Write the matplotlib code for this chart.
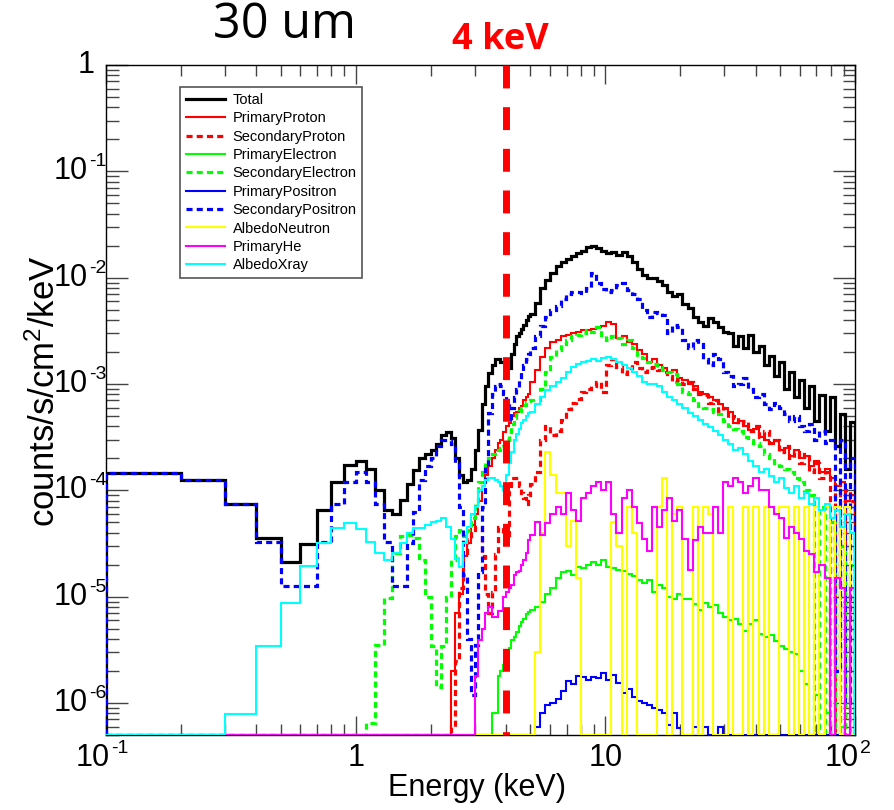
import numpy as np
import matplotlib
matplotlib.use('Agg')
import matplotlib.pyplot as plt
from matplotlib.lines import Line2D
from matplotlib.ticker import FixedLocator, LogLocator, NullFormatter
from matplotlib.transforms import blended_transform_factory, offset_copy

plt.rcParams['font.family'] = 'Liberation Sans'
plt.rcParams['mathtext.fontset'] = 'custom'
plt.rcParams['mathtext.rm'] = 'Liberation Sans'
plt.rcParams['mathtext.it'] = 'Liberation Sans:italic'

# bin edges (keV): 0.1 keV bins up to 5 keV, then log-spaced bins up to 100 keV
edges = np.concatenate([np.arange(1, 51) / 10.0, 5.0 * 20 ** (np.arange(1, 65) / 64)])

total = [
    1.45e-4, 1.25e-4, 7.5e-5, 3.6e-5, 2.1e-5, 3.1e-5, 6.5e-5, 1.2e-4, 1.73e-4, 1.9e-4,
    1.6e-4, 1.0e-4, 6.5e-5, 6.0e-5, 8.1e-5, 1.15e-4, 1.55e-4, 2.0e-4, 2.2e-4, 2.4e-4,
    2.7e-4, 3.3e-4, 3.5e-4, 3.1e-4, 2.0e-4, 1.4e-4, 1.2e-4, 1.25e-4, 1.6e-4, 2.4e-4,
    3.7e-4, 6.5e-4, 9.5e-4, 1.26e-3, 1.5e-3, 1.7e-3, 1.7e-3, 1.6e-3, 1.6e-3, 1.45e-3,
    1.4e-3, 1.9e-3, 2.4e-3, 2.8e-3, 3.0e-3, 3.3e-3, 3.6e-3, 4.0e-3, 4.4e-3,
    4.6e-3, 5.8e-3, 8.0e-3, 9.5e-3, 1.1e-2, 1.3e-2, 1.4e-2, 1.5e-2, 1.6e-2, 1.7e-2,
    1.8e-2, 1.95e-2, 2.0e-2, 1.9e-2, 1.8e-2, 1.7e-2, 1.75e-2, 1.65e-2, 1.75e-2, 1.6e-2,
    1.4e-2, 1.2e-2, 1.05e-2, 1.0e-2, 1.0e-2, 9.3e-3, 8.5e-3, 7.3e-3, 6.7e-3, 7.0e-3,
    5.7e-3, 5.2e-3, 4.3e-3, 3.8e-3, 3.5e-3, 4.2e-3, 3.8e-3, 3.4e-3, 3.1e-3, 3.0e-3,
    2.3e-3, 2.8e-3, 2.2e-3, 2.9e-3, 2.0e-3, 2.3e-3, 1.5e-3, 1.85e-3, 1.2e-3, 1.6e-3,
    9.0e-4, 1.3e-3, 7.5e-4, 1.1e-3, 6.0e-4, 9.5e-4, 4.5e-4, 7.8e-4, 3.6e-4, 7.5e-4,
    2.6e-4, 5.2e-4, 1.6e-4, 4.4e-4,
]

primary_proton = [0] * 23 + [
    2e-6, 7e-6, 1.05e-5, 2.4e-5, 3.2e-5, 4.7e-5, 6e-5, 8e-5, 1.1e-4, 1.4e-4,
    1.7e-4, 2.0e-4, 2.4e-4, 2.8e-4, 3.0e-4, 3.5e-4, 4.0e-4, 4.3e-4, 5.0e-4, 5.3e-4,
    5.5e-4, 6.0e-4, 6.2e-4, 7.0e-4, 7.5e-4, 8.0e-4,
    1.05e-3, 1.35e-3, 1.8e-3, 2.2e-3, 2.5e-3, 2.6e-3, 2.8e-3, 2.9e-3, 3.0e-3, 3.1e-3,
    3.2e-3, 3.2e-3, 3.3e-3, 3.4e-3, 3.5e-3, 3.8e-3, 3.7e-3, 2.7e-3, 2.8e-3, 2.5e-3,
    2.4e-3, 2.1e-3, 1.9e-3, 1.6e-3, 1.7e-3, 1.5e-3, 1.4e-3, 1.3e-3, 1.35e-3, 1.15e-3,
    1.1e-3, 1.0e-3, 9.5e-4, 8.5e-4, 8.0e-4, 7.5e-4, 7.0e-4, 6.5e-4, 6.0e-4, 5.5e-4,
    4.3e-4, 4.5e-4, 4.0e-4, 3.7e-4, 3.8e-4, 3.2e-4, 3.0e-4, 2.7e-4, 2.9e-4, 2.4e-4,
    2.5e-4, 2.1e-4, 2.4e-4, 2.0e-4, 2.1e-4, 1.7e-4, 1.9e-4, 1.5e-4, 1.6e-4, 1.3e-4,
    1.1e-4, 1.2e-4, 8e-5, 9e-5,
]

secondary_proton = [0] * 23 + [
    6e-7, 2.5e-6, 1.2e-5, 2.6e-5, 3.5e-5, 4.2e-5, 4.5e-5, 4.5e-5, 2.4e-5, 1.05e-5,
    7e-6, 1.1e-5, 2.5e-5, 4.5e-5, 4.5e-5, 4.0e-5, 3.5e-5, 1.0e-4, 1.3e-4, 1.3e-4,
    1.3e-4, 1.1e-4, 9.5e-5, 8.5e-5, 7.5e-5, 9e-5,
    1.15e-4, 1.5e-4, 3.0e-4, 4.0e-4, 3.3e-4, 3.6e-4, 4.6e-4, 5.8e-4, 6.6e-4, 7.2e-4,
    8.5e-4, 9.0e-4, 9.5e-4, 1.05e-3, 8.5e-4, 1.5e-3, 1.7e-3, 1.45e-3, 1.25e-3, 1.4e-3,
    1.6e-3, 1.4e-3, 1.3e-3, 1.4e-3, 1.45e-3, 1.35e-3, 1.3e-3, 1.2e-3, 1.05e-3, 1.1e-3,
    1.0e-3, 1.05e-3, 9.0e-4, 8.0e-4, 7.8e-4, 6.6e-4, 7.0e-4, 5.6e-4, 6.0e-4, 4.8e-4,
    5.0e-4, 4.2e-4, 4.5e-4, 3.6e-4, 4.0e-4, 3.2e-4, 3.6e-4, 2.8e-4, 3.0e-4, 2.3e-4,
    2.6e-4, 2.0e-4, 2.3e-4, 1.8e-4, 2.2e-4, 1.5e-4, 1.8e-4, 1.3e-4, 1.5e-4, 0,
    1.2e-4, 0, 1.0e-4, 8e-5,
]

primary_electron = [0] * 34 + [
    8e-7, 8e-7, 1.8e-6, 2.0e-6, 2.3e-6, 2.8e-6, 3.3e-6, 3.9e-6, 4.2e-6, 4.7e-6,
    5.3e-6, 5.8e-6, 6.2e-6, 6.8e-6, 7.2e-6,
    7.5e-6, 8.0e-6, 9.0e-6, 1.05e-5, 1.2e-5, 1.5e-5, 1.7e-5, 1.75e-5, 1.6e-5, 1.9e-5,
    1.85e-5, 2.0e-5, 2.1e-5, 2.0e-5, 2.2e-5, 1.9e-5, 1.85e-5, 1.8e-5, 1.75e-5, 1.65e-5,
    1.55e-5, 1.45e-5, 1.35e-5, 1.45e-5, 1.1e-5, 1.3e-5, 1.2e-5, 1.0e-5, 9.5e-6, 1.05e-5,
    9.5e-6, 9.5e-6, 8.5e-6, 7.5e-6, 8.8e-6, 8.0e-6, 8.3e-6, 7.0e-6, 6.5e-6, 6.0e-6,
    6.2e-6, 5.5e-6, 4.8e-6, 5.5e-6, 6.0e-6, 4.5e-6, 4.2e-6, 4.4e-6, 3.8e-6, 3.4e-6,
    3.2e-6, 3.0e-6, 2.9e-6, 2.0e-6, 1.5e-6, 0, 1.2e-6, 0, 8e-7, 0,
    0, 6e-7, 0, 0,
]

secondary_electron = [0] * 10 + [
    6.5e-7, 3.5e-6, 9.7e-6, 2.6e-5, 3.7e-5, 3.8e-5, 3.6e-5, 2.2e-5, 1e-5, 3.4e-6,
    1.4e-6, 3.4e-6, 1e-5, 2.2e-5, 3.7e-5, 4.2e-5, 3.7e-5, 4.2e-5, 5.5e-5, 7.5e-5,
    1.2e-4, 1.5e-4, 1.8e-4, 2.0e-4, 2.2e-4, 2.3e-4, 2.4e-4, 2.5e-4, 2.6e-4, 3.0e-4,
    3.5e-4, 4.2e-4, 4.8e-4, 5.2e-4, 5.6e-4, 6.0e-4, 6.4e-4, 6.7e-4, 6.9e-4,
    7.0e-4, 7.0e-4, 9e-4, 1.3e-3, 1.8e-3, 2.1e-3, 2.4e-3, 2.6e-3, 2.8e-3, 2.9e-3,
    3.0e-3, 3.2e-3, 3.1e-3, 3.4e-3, 2.9e-3, 2.6e-3, 2.8e-3, 2.7e-3, 2.4e-3, 2.6e-3,
    2.2e-3, 1.8e-3, 1.75e-3, 1.6e-3, 1.55e-3, 1.45e-3, 1.35e-3, 1.3e-3, 1.25e-3, 1.0e-3,
    8.5e-4, 8.0e-4, 7.0e-4, 6.2e-4, 6.0e-4, 5.8e-4, 5.5e-4, 5.2e-4, 4.5e-4, 4.0e-4,
    3.8e-4, 3.6e-4, 3.2e-4, 3.0e-4, 2.8e-4, 2.6e-4, 2.2e-4, 2.0e-4, 1.8e-4, 1.7e-4,
    1.6e-4, 1.5e-4, 1.3e-4, 1.2e-4, 1.0e-4, 9e-5, 0, 7e-5, 0, 5e-5,
    0, 3e-5, 0, 2e-5,
]

primary_positron = [0] * 50 + [
    6e-7, 8e-7, 9.5e-7, 1.0e-6, 1.1e-6, 1.3e-6, 1.6e-6, 1.5e-6, 1.8e-6,
    1.75e-6, 1.65e-6, 1.75e-6, 1.7e-6, 1.9e-6, 1.65e-6, 1.85e-6, 1.55e-6, 1.25e-6, 1.35e-6,
    1.15e-6, 1.05e-6, 1.0e-6, 9.5e-7, 9e-7, 8.5e-7, 8e-7, 6.2e-7, 8e-7, 5.8e-7,
    0, 0, 6e-7, 0, 6e-7, 0, 0, 6e-7, 0, 0,
] + [0] * 24

secondary_positron = [
    1.45e-4, 1.25e-4, 7.5e-5, 3.3e-5, 1.25e-5, 1.25e-5, 3.3e-5, 7.5e-5, 1.2e-4, 1.5e-4,
    1.2e-4, 7.5e-5, 3.3e-5, 1.25e-5, 1.25e-5, 3.2e-5, 6.3e-5, 1.25e-4, 1.7e-4, 2.0e-4,
    2.6e-4, 3.0e-4, 3.0e-4, 2.7e-4, 1.8e-4, 7e-5, 1.6e-5, 4e-6, 1.2e-6, 3.5e-6,
    1.7e-5, 7e-5, 1.7e-4, 5.3e-4, 8e-4, 9.5e-4, 1.0e-3, 9.5e-4, 8e-4, 7e-4,
    4.5e-4, 6e-4, 7.5e-4, 9e-4, 1.1e-3, 1.3e-3, 1.5e-3, 1.7e-3, 1.9e-3,
    2.2e-3, 2.8e-3, 3.5e-3, 4.3e-3, 5.0e-3, 5.4e-3, 6.3e-3, 7.0e-3, 7.4e-3, 7.3e-3,
    7.2e-3, 8.0e-3, 1.1e-2, 9.0e-3, 7.8e-3, 7.4e-3, 7.6e-3, 8.5e-3, 9.0e-3, 7.7e-3,
    7.0e-3, 6.3e-3, 5.0e-3, 4.3e-3, 4.8e-3, 4.7e-3, 4.5e-3, 3.0e-3, 3.6e-3, 3.4e-3,
    2.6e-3, 2.2e-3, 2.6e-3, 2.4e-3, 1.7e-3, 1.5e-3, 1.9e-3, 1.7e-3, 1.3e-3, 1.2e-3,
    9.5e-4, 1.0e-3, 1.15e-3, 9.0e-4, 7.5e-4, 8.0e-4, 6.5e-4, 5.8e-4, 6.6e-4, 6.0e-4,
    5.2e-4, 4.5e-4, 5.0e-4, 4.0e-4, 3.6e-4, 4.2e-4, 3.0e-4, 3.6e-4, 2.8e-4, 3.0e-4,
    2.0e-6, 3.0e-4, 1.0e-6, 2.0e-4,
]

albedo_neutron = [0] * 50 + [
    3e-6, 4e-5, 2.3e-4, 1.4e-4, 9.5e-5, 9.5e-5, 3e-5, 5.2e-5, 1.5e-5,
    0, 0, 0, 0, 0, 0, 5e-5, 3e-5, 0, 7e-5,
    4e-5, 0, 0, 0, 0, 7e-5, 1.3e-4, 0, 6e-5, 7e-5,
    0, 0, 7e-5, 0, 7e-5, 6e-5, 0, 0, 0, 7e-5,
    0, 0, 7e-5, 0, 7e-5, 0, 7e-5, 0, 0, 7e-5,
    7e-5, 0, 7e-5, 0, 7e-5, 0, 7e-5, 0, 7e-5, 0,
    7e-5, 0, 7e-5, 0,
]

primary_he = [0] * 29 + [
    1.8e-6, 3.9e-6, 5e-6, 7e-6, 8e-6, 6.4e-6, 6.4e-6, 7.4e-6, 7.4e-6, 1.0e-5,
    1.1e-5, 1.2e-5, 1.3e-5, 1.6e-5, 1.7e-5, 1.75e-5, 2.0e-5, 2.2e-5, 2.6e-5, 3.4e-5,
    3.8e-5, 5.0e-5, 3.8e-5, 4.9e-5, 6.0e-5, 7.0e-5, 6.0e-5, 9.5e-5, 6.5e-5, 5.2e-5,
    8.5e-5, 9.5e-5, 1.1e-4, 1.2e-4, 1.0e-4, 1.2e-4, 6e-5, 4e-5, 8.5e-5, 1.0e-4,
    7e-5, 4.9e-5, 3.5e-5, 2.7e-5, 7e-5, 4.5e-5, 6.5e-5, 8.5e-5, 5.2e-5, 6.5e-5,
    3.5e-5, 1.8e-5, 3.4e-5, 4.5e-5, 4.0e-5, 4.0e-5, 7e-5, 4e-5, 1.2e-4, 1.1e-4,
    1.3e-4, 1.2e-4, 9.5e-5, 1.1e-4, 1.3e-4, 1.0e-4, 1.0e-4, 7e-5, 6e-5, 5.5e-5,
    3.6e-5, 4.5e-5, 4.0e-5, 3.5e-5, 2.7e-5, 2.5e-5, 1.7e-5, 2.0e-5, 1.5e-5, 0,
    1.5e-5, 1.2e-5, 0, 1.2e-5,
]

albedo_xray = [0, 0] + [
    7.8e-7, 3.4e-6, 8.7e-6, 1.95e-5, 3.2e-5, 4.4e-5, 4.9e-5, 4.3e-5,
    3.3e-5, 2.6e-5, 2.2e-5, 2.6e-5, 3.2e-5, 4.0e-5, 4.4e-5, 4.4e-5, 4.7e-5, 5.0e-5,
    5.2e-5, 5.5e-5, 4.5e-5, 3.5e-5, 2.3e-5, 1.9e-5, 3.2e-5, 4.5e-5, 6e-5, 7e-5,
    1.0e-4, 1.1e-4, 1.25e-4, 1.3e-4, 1.3e-4, 1.25e-4, 1.2e-4, 1.1e-4, 1.0e-4, 1.4e-4,
    1.8e-4, 2.3e-4, 3.0e-4, 3.4e-4, 3.8e-4, 4.3e-4, 4.6e-4, 5.0e-4, 5.3e-4,
    5.5e-4, 6.5e-4, 7.5e-4, 8.8e-4, 9.5e-4, 1.05e-3, 1.15e-3, 1.3e-3, 1.45e-3, 1.55e-3,
    1.6e-3, 1.65e-3, 1.7e-3, 1.65e-3, 1.75e-3, 1.8e-3, 1.7e-3, 1.6e-3, 1.5e-3, 1.4e-3,
    1.3e-3, 1.2e-3, 1.05e-3, 1.0e-3, 1.0e-3, 9.5e-4, 8.5e-4, 7.5e-4, 7.0e-4, 6.5e-4,
    6.0e-4, 5.3e-4, 5.0e-4, 4.6e-4, 4.2e-4, 3.9e-4, 3.6e-4, 3.3e-4, 3.0e-4, 2.7e-4,
    2.4e-4, 2.5e-4, 2.2e-4, 1.9e-4, 1.7e-4, 1.5e-4, 1.6e-4, 1.35e-4, 1.2e-4, 1.3e-4,
    1.05e-4, 9.5e-5, 1.1e-4, 8.5e-5, 9.5e-5, 7.5e-5, 8.5e-5, 6.5e-5, 7.5e-5, 5.5e-5,
    6.5e-5, 4.5e-5, 6.0e-5, 4.0e-5,
]

labels = ['Total', 'PrimaryProton', 'SecondaryProton', 'PrimaryElectron',
          'SecondaryElectron', 'PrimaryPositron', 'SecondaryPositron',
          'AlbedoNeutron', 'PrimaryHe', 'AlbedoXray']
series = [total, primary_proton, secondary_proton, primary_electron,
          secondary_electron, primary_positron, secondary_positron,
          albedo_neutron, primary_he, albedo_xray]
colors = ['black', '#ff0000', '#ff0000', '#00ff00', '#00ff00', '#0000ff', '#0000ff',
          '#ffff00', '#ff00ff', '#00ffff']
dashed = [False, False, True, False, True, False, True, False, False, False]

x_exps = [-1, 2]            # x ticks drawn as powers of ten
y_exps = [-6, -5, -4, -3, -2, -1]

ymin, ymax = 5e-7, 1.0
dash_style = (0, (1.9, 1.3))

fig = plt.figure(figsize=(8.95, 8.10), dpi=100)
ax = fig.add_axes([106 / 895, 75 / 810, 749 / 895, 670 / 810])
ax.set_xscale('log')
ax.set_yscale('log')

handles = []
for i, (vals, lab, col, dsh) in enumerate(zip(series, labels, colors, dashed)):
    v = np.clip(np.asarray(vals, dtype=float), ymin, None)
    lw = 2.3 if (i == 0 or dsh) else 1.5
    ls = dash_style if dsh else '-'
    ax.stairs(v, edges, baseline=ymin, color=col, lw=lw, ls=ls, zorder=2 + i * 0.1)
    handles.append(Line2D([], [], color=col, lw=lw, ls=ls))

ax.set_xlim(0.1, 100)
ax.set_ylim(ymin, ymax)

# 4 keV marker
ax.plot([4, 4], [ymax, ymin], color='#ff0000', lw=5, ls=(0, (3.3, 2.7)),
        solid_capstyle='butt', zorder=10, clip_on=False)

ax.xaxis.set_major_locator(FixedLocator([0.1, 1, 10, 100]))
ax.yaxis.set_major_locator(FixedLocator([1e-6, 1e-5, 1e-4, 1e-3, 1e-2, 1e-1, 1]))
for axis in (ax.xaxis, ax.yaxis):
    axis.set_minor_locator(LogLocator(base=10, subs=np.arange(2, 10), numticks=20))
    axis.set_minor_formatter(NullFormatter())

ax.tick_params(which='both', direction='in', top=True, right=True, width=1,
               color='#444444', labelleft=False, labelbottom=False)
ax.tick_params(axis='y', which='major', length=16)
ax.tick_params(axis='y', which='minor', length=9)
ax.tick_params(axis='x', which='major', length=14)
ax.tick_params(axis='x', which='minor', length=8)
for sp in ax.spines.values():
    sp.set_linewidth(1.0)

# ROOT-style tick labels: "10" with a small raised exponent
lab_fs, sup_fs = 22, 14
ty = blended_transform_factory(fig.transFigure, ax.transData)
for e in y_exps:
    ax.text(88 / 895, 10.0 ** e, '10', transform=ty, ha='right', va='center',
            fontsize=lab_fs)
    ax.text(88 / 895, 10.0 ** e, '-%d' % -e, ha='left', va='top', fontsize=sup_fs,
            transform=offset_copy(ty, fig=fig, x=0.5, y=13, units='points'))
ax.text(95 / 895, 1.0, '1', transform=ty, ha='right', va='center', fontsize=lab_fs)

tx = blended_transform_factory(ax.transData, fig.transFigure)
xl_y = 1 - 758 / 810
for e in x_exps:
    ax.text(10.0 ** e, xl_y, '10', ha='right', va='center', fontsize=lab_fs,
            transform=offset_copy(tx, fig=fig, x=3, y=0, units='points'))
    ax.text(10.0 ** e, xl_y, ('%d' % e).replace('-', '-'), ha='left', va='top',
            fontsize=sup_fs,
            transform=offset_copy(tx, fig=fig, x=3.5, y=13, units='points'))
for xv, s in [(1, '1'), (10, '10')]:
    ax.text(xv, xl_y, s, transform=tx, ha='center', va='center', fontsize=lab_fs)

ax.set_xlabel('Energy (keV)', fontsize=22)
ax.xaxis.set_label_coords(0.495, -0.057)
ax.set_ylabel(r'counts/s/cm$^{2}$/keV', fontsize=25)
ax.yaxis.set_label_coords(-0.059, 0.513)

leg = ax.legend(handles, labels, loc='upper left', bbox_to_anchor=(0.0988, 0.967),
                borderaxespad=0, fontsize=10.5, handlelength=2.7, handletextpad=0.5,
                labelspacing=0.3, borderpad=0.4, fancybox=False, framealpha=1)
leg.get_frame().set_edgecolor('#555555')
leg.get_frame().set_linewidth(1.2)
leg.set_zorder(20)

fig.text(285 / 895, 1 - 25 / 810, '30 um', ha='center', va='center',
         fontsize=35, family='Open Sans')
fig.text(500 / 895, 1 - 40 / 810, '4 keV', ha='center', va='center',
         fontsize=26, family='Open Sans', weight='bold', color='#ff0000')

fig.savefig('out.png', dpi=100)
